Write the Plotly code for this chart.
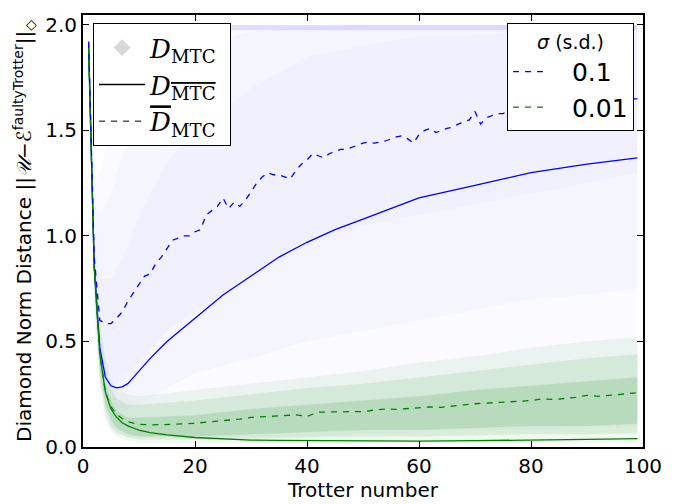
import plotly.graph_objects as go

# ---------------- data ----------------
# cloud of individual D_MTC samples, summarised as quantile envelopes
blue_cloud_x = [1, 2, 3, 4, 5, 6, 8, 10, 15, 20, 30, 40, 50, 60, 70, 80, 90, 99]
blue_cloud_lo = [1.85, 0.55, 0.20, 0.12, 0.08, 0.06, 0.05, 0.05, 0.05, 0.05, 0.05, 0.05, 0.06, 0.07, 0.08, 0.08, 0.09, 0.10]
blue_cloud_p10 = [1.86, 0.65, 0.30, 0.22, 0.18, 0.17, 0.18, 0.20, 0.28, 0.35, 0.42, 0.50, 0.55, 0.60, 0.65, 0.70, 0.72, 0.75]
blue_cloud_q1 = [1.88, 0.75, 0.40, 0.35, 0.30, 0.30, 0.35, 0.40, 0.55, 0.65, 0.80, 0.95, 1.05, 1.10, 1.15, 1.20, 1.25, 1.30]
blue_cloud_q3 = [1.93, 1.00, 0.80, 0.80, 0.80, 0.85, 0.95, 1.10, 1.35, 1.50, 1.70, 1.85, 1.90, 1.95, 1.95, 1.97, 1.97, 1.98]
blue_cloud_p90 = [1.95, 1.15, 1.10, 1.15, 1.20, 1.30, 1.45, 1.60, 1.80, 1.90, 1.97, 1.99, 2.00, 2.00, 2.00, 2.00, 2.00, 2.00]
blue_cloud_hi = [1.97, 1.25, 1.30, 1.40, 1.50, 1.60, 1.75, 1.90, 2.00, 2.00, 2.00, 2.00, 2.00, 2.00, 2.00, 2.00, 2.00, 2.00]

blue_top_x = [10, 20, 30, 40, 50, 60, 70, 80, 90, 99]
blue_top_lo = [1.975, 1.975, 1.975, 1.975, 1.975, 1.975, 1.975, 1.975, 1.975, 1.975]
blue_top_hi = [2.0, 2.0, 2.0, 2.0, 2.0, 2.0, 2.0, 2.0, 2.0, 2.0]

green_cloud_x = [1, 2, 3, 4, 5, 6, 8, 10, 20, 30, 40, 50, 60, 70, 80, 90, 99]
green_cloud_lo = [1.86, 0.74, 0.30, 0.14, 0.08, 0.05, 0.03, 0.02, 0.02, 0.02, 0.02, 0.02, 0.02, 0.02, 0.02, 0.02, 0.02]
green_cloud_p10 = [1.87, 0.78, 0.34, 0.17, 0.10, 0.07, 0.045, 0.035, 0.035, 0.04, 0.045, 0.05, 0.05, 0.055, 0.06, 0.06, 0.065]
green_cloud_q1 = [1.88, 0.81, 0.38, 0.20, 0.13, 0.09, 0.06, 0.05, 0.05, 0.06, 0.07, 0.08, 0.08, 0.09, 0.10, 0.10, 0.11]
green_cloud_q3 = [1.90, 0.88, 0.48, 0.30, 0.22, 0.17, 0.14, 0.14, 0.15, 0.18, 0.20, 0.22, 0.24, 0.27, 0.29, 0.31, 0.33]
green_cloud_p90 = [1.91, 0.92, 0.55, 0.37, 0.28, 0.23, 0.20, 0.20, 0.22, 0.25, 0.28, 0.30, 0.33, 0.36, 0.39, 0.42, 0.44]
green_cloud_hi = [1.92, 0.95, 0.60, 0.42, 0.32, 0.28, 0.25, 0.24, 0.27, 0.30, 0.33, 0.36, 0.40, 0.43, 0.47, 0.50, 0.52]

# distance of the averaged channel (solid lines)
solid_x = [1, 2, 3, 4, 5, 6, 7, 8, 9, 10, 12, 15, 20, 25, 30, 35, 40, 45, 50, 60, 70, 80, 90, 99]
blue_solid = [1.92, 0.86, 0.47, 0.33, 0.29, 0.28, 0.285, 0.30, 0.33, 0.36, 0.42, 0.50, 0.61, 0.72, 0.81, 0.90, 0.97, 1.03, 1.08, 1.18, 1.24, 1.30, 1.34, 1.37]
green_solid = [1.89, 0.85, 0.44, 0.26, 0.18, 0.14, 0.115, 0.10, 0.09, 0.08, 0.068, 0.057, 0.045, 0.038, 0.033, 0.031, 0.03, 0.029, 0.028, 0.028, 0.03, 0.032, 0.036, 0.04]

# mean distance (dashed lines)
blue_dash_x = list(range(1, 100))
blue_dash = [1.92, 0.90, 0.60, 0.585, 0.585, 0.61, 0.64, 0.69, 0.73, 0.77,
             0.81, 0.82, 0.87, 0.90, 0.94, 0.98, 0.99, 1.00, 1.00, 1.02,
             1.03, 1.10, 1.12, 1.14, 1.18, 1.13, 1.16, 1.14, 1.17, 1.21,
             1.25, 1.28, 1.30, 1.29, 1.29, 1.28, 1.27, 1.31, 1.34, 1.36,
             1.39, 1.38, 1.37, 1.39, 1.40, 1.41, 1.41, 1.42, 1.43, 1.44,
             1.445, 1.44, 1.445, 1.45, 1.46, 1.47, 1.475, 1.46, 1.44, 1.48,
             1.50, 1.51, 1.49, 1.50, 1.51, 1.515, 1.53, 1.54, 1.55, 1.59,
             1.53, 1.56, 1.57, 1.58, 1.58, 1.59, 1.58, 1.60, 1.59, 1.60,
             1.61, 1.60, 1.61, 1.62, 1.61, 1.62, 1.62, 1.63, 1.62, 1.63,
             1.63, 1.64, 1.63, 1.64, 1.64, 1.65, 1.64, 1.65, 1.65]
green_dash_x = [1, 2, 3, 4, 5, 6, 7, 8, 9, 10, 12, 14, 16, 18, 20, 22, 24, 26, 28, 30,
                32, 34, 36, 38, 40, 42, 44, 46, 48, 50, 52, 54, 56, 58, 60, 62, 64, 66, 68, 70,
                72, 74, 76, 78, 80, 82, 84, 86, 88, 90, 92, 94, 96, 98, 99]
green_dash = [1.89, 0.85, 0.44, 0.26, 0.19, 0.155, 0.135, 0.12, 0.113, 0.108, 0.105, 0.105, 0.107, 0.11, 0.112, 0.118, 0.122, 0.128, 0.132, 0.14,
              0.143, 0.145, 0.15, 0.152, 0.145, 0.165, 0.166, 0.167, 0.167, 0.168, 0.175, 0.18, 0.178, 0.183, 0.185, 0.19, 0.188, 0.195, 0.20, 0.205,
              0.208, 0.21, 0.215, 0.218, 0.22, 0.228, 0.225, 0.23, 0.235, 0.245, 0.24, 0.245, 0.25, 0.255, 0.257]

x_ticks = [0, 20, 40, 60, 80, 100]
y_ticks = [0.0, 0.5, 1.0, 1.5, 2.0]

BLUE = "#0000ff"
GREEN = "#008000"
SERIF = "DejaVu Serif"
NB = "\u00a0"

fig = go.Figure()


def band(x, lo, hi, color):
    fig.add_trace(go.Scatter(x=x, y=lo, mode="lines", line=dict(width=0), hoverinfo="skip",
                             showlegend=False))
    fig.add_trace(go.Scatter(x=x, y=hi, mode="lines", line=dict(width=0), fill="tonexty",
                             fillcolor=color, hoverinfo="skip", showlegend=False))


band(blue_cloud_x, blue_cloud_lo, blue_cloud_hi, "rgba(0,0,255,0.018)")
band(blue_cloud_x, blue_cloud_p10, blue_cloud_p90, "rgba(0,0,255,0.018)")
band(blue_cloud_x, blue_cloud_q1, blue_cloud_q3, "rgba(0,0,255,0.018)")
band(blue_top_x, blue_top_lo, blue_top_hi, "rgba(0,0,255,0.11)")
band(green_cloud_x, green_cloud_lo, green_cloud_hi, "rgba(0,128,0,0.06)")
band(green_cloud_x, green_cloud_p10, green_cloud_p90, "rgba(0,128,0,0.09)")
band(green_cloud_x, green_cloud_q1, green_cloud_q3, "rgba(0,128,0,0.13)")

fig.add_trace(go.Scatter(x=solid_x, y=blue_solid, mode="lines", line=dict(color=BLUE, width=1.3),
                         showlegend=False))
fig.add_trace(go.Scatter(x=solid_x, y=green_solid, mode="lines", line=dict(color=GREEN, width=1.3),
                         showlegend=False))
fig.add_trace(go.Scatter(x=blue_dash_x, y=blue_dash, mode="lines",
                         line=dict(color=BLUE, width=1.3, dash="6px,6px"), showlegend=False))
fig.add_trace(go.Scatter(x=green_dash_x, y=green_dash, mode="lines",
                         line=dict(color=GREEN, width=1.3, dash="6px,6px"), showlegend=False))

# legend 1 entries
fig.add_trace(go.Scatter(x=[None], y=[None], mode="markers",
                         marker=dict(symbol="diamond", size=13, color="#d8d8d8"),
                         name="<i>D</i><sub>MTC</sub>" + NB, legend="legend"))
fig.add_trace(go.Scatter(x=[None], y=[None], mode="lines", line=dict(color="black", width=1.5),
                         name="<i>D</i><sub><span style='text-decoration:overline'>MTC</span></sub>" + NB,
                         legend="legend"))
fig.add_trace(go.Scatter(x=[None], y=[None], mode="lines",
                         line=dict(color="#555555", width=1.5, dash="6px,6px"),
                         name="<span style='text-decoration:overline'><i>D</i></span><sub>MTC</sub>" + NB,
                         legend="legend"))
# legend 2 entries
fig.add_trace(go.Scatter(x=[None], y=[None], mode="lines",
                         line=dict(color=BLUE, width=1.3, dash="6px,6px"), name=NB * 3 + "0.1",
                         legend="legend2"))
fig.add_trace(go.Scatter(x=[None], y=[None], mode="lines",
                         line=dict(color=GREEN, width=1.3, dash="6px,6px"), name=NB * 3 + "0.01",
                         legend="legend2"))

axis_common = dict(showline=True, linecolor="black", linewidth=2, mirror="allticks",
                   ticks="inside", ticklen=6, tickwidth=1, tickcolor="black",
                   showgrid=False, zeroline=False, automargin=False,
                   tickfont=dict(family="DejaVu Sans", size=20, color="black"))

# the page body has an 8px margin, so the figure is offset by 8px
fig.update_layout(
    template="none",
    width=689, height=496,
    margin=dict(l=75, r=54, t=7, b=57),
    paper_bgcolor="white", plot_bgcolor="white",
    font=dict(family="DejaVu Sans", color="black"),
    xaxis=dict(range=[0, 100], tickvals=x_ticks, ticktext=[str(v) for v in x_ticks],
               title=dict(text="Trotter number", font=dict(size=20), standoff=0), **axis_common),
    yaxis=dict(range=[0, 2.047], tickvals=y_ticks, ticktext=[f"{v:.1f}" for v in y_ticks],
               title=dict(text="Diamond Norm Distance ||<i>𝒰</i>−<i>ℰ</i><sup>faultyTrotter</sup>||<sub>◇</sub>",
                          font=dict(size=20), standoff=8), **axis_common),
    legend=dict(x=0.018, y=0.981, xanchor="left", yanchor="top", bgcolor="white",
                bordercolor="black", borderwidth=1, traceorder="normal",
                font=dict(family=SERIF, size=26, color="black"), itemwidth=46),
    legend2=dict(x=0.984, y=0.981, xanchor="right", yanchor="top", bgcolor="white",
                 bordercolor="black", borderwidth=1, traceorder="normal",
                 title=dict(text="<i>σ</i> (s.d.)", side="top center",
                            font=dict(family="DejaVu Sans", size=19)),
                 font=dict(family="DejaVu Sans", size=25, color="black"), itemwidth=30),
)

fig.write_html("out.html")
